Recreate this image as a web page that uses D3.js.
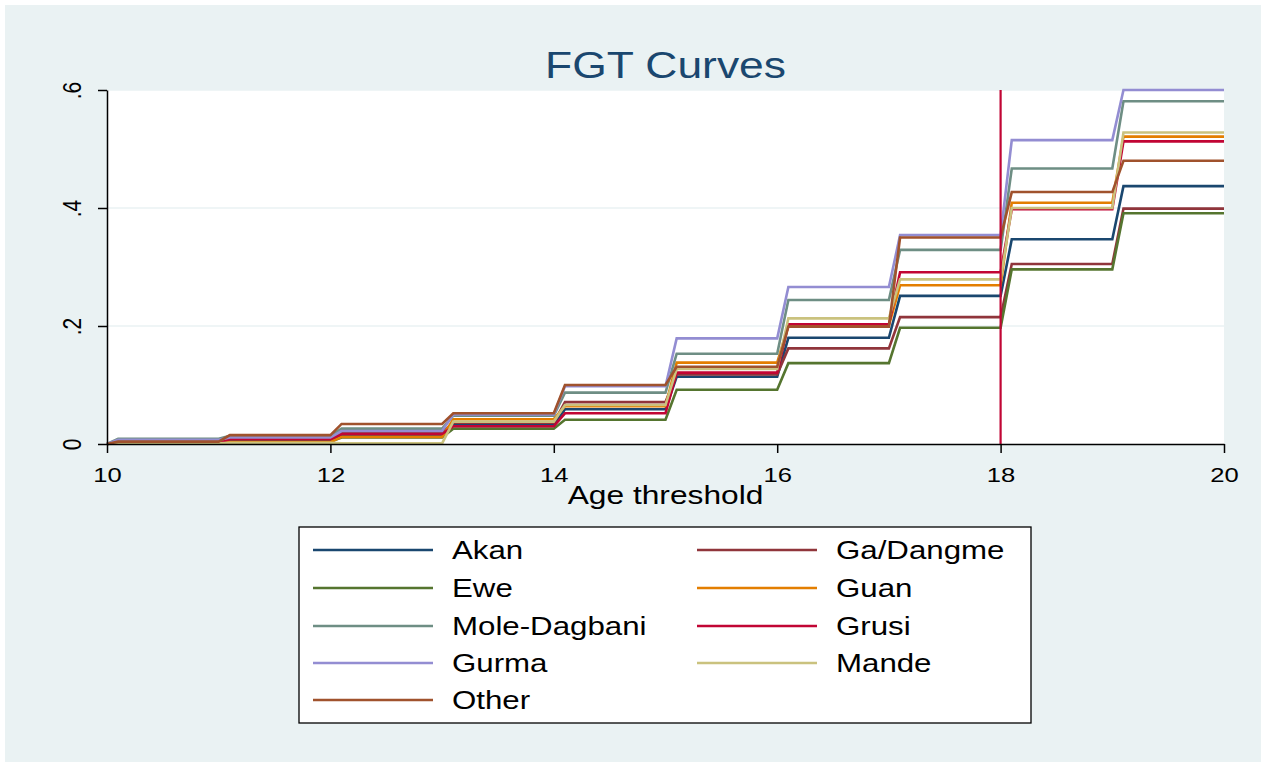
<!DOCTYPE html>
<html>
<head>
<meta charset="utf-8">
<script src="https://cdn.jsdelivr.net/npm/d3@7"></script>
<style>
  html, body { margin: 0; padding: 0; background: #ffffff; }
  svg { display: block; font-family: "Liberation Sans", Arial, sans-serif; }
</style>
</head>
<body>
<svg id="chart" width="1266" height="767"></svg>
<script>
// ---- Data ----
const ages = [10, 10.1, 11, 11.1, 12, 12.1, 13, 13.1, 14, 14.1, 15, 15.1, 16, 16.1, 17, 17.1, 18, 18.1, 19, 19.1, 20];
const groups = ["Akan", "Ga/Dangme", "Ewe", "Guan", "Mole-Dagbani", "Grusi", "Gurma", "Mande", "Other"];
// FGT level after each threshold step (age 10 value is 0)
const akan        = [0, 0.003, 0.003, 0.005, 0.005, 0.014, 0.014, 0.032, 0.032, 0.059, 0.059, 0.114, 0.114, 0.180, 0.180, 0.251, 0.251, 0.347, 0.347, 0.437, 0.437];
const gaDangme    = [0, 0.004, 0.004, 0.007, 0.007, 0.019, 0.019, 0.036, 0.036, 0.071, 0.071, 0.118, 0.118, 0.162, 0.162, 0.215, 0.215, 0.305, 0.305, 0.399, 0.399];
const ewe         = [0, 0.002, 0.002, 0.004, 0.004, 0.011, 0.011, 0.026, 0.026, 0.041, 0.041, 0.092, 0.092, 0.137, 0.137, 0.197, 0.197, 0.296, 0.296, 0.391, 0.391];
const guan        = [0, 0.002, 0.002, 0.003, 0.003, 0.012, 0.012, 0.042, 0.042, 0.064, 0.064, 0.138, 0.138, 0.201, 0.201, 0.269, 0.269, 0.409, 0.409, 0.521, 0.521];
const moleDagbani = [0, 0.009, 0.009, 0.014, 0.014, 0.026, 0.026, 0.048, 0.048, 0.087, 0.087, 0.153, 0.153, 0.244, 0.244, 0.329, 0.329, 0.467, 0.467, 0.581, 0.581];
const grusi       = [0, 0.003, 0.003, 0.008, 0.008, 0.017, 0.017, 0.030, 0.030, 0.052, 0.052, 0.121, 0.121, 0.203, 0.203, 0.291, 0.291, 0.398, 0.398, 0.513, 0.513];
const gurma       = [0, 0.007, 0.007, 0.011, 0.011, 0.022, 0.022, 0.050, 0.050, 0.098, 0.098, 0.179, 0.179, 0.266, 0.266, 0.354, 0.354, 0.515, 0.515, 0.600, 0.600];
const mande       = [0, 0.001, 0.001, 0.002, 0.002, 0.001, 0.001, 0.038, 0.038, 0.066, 0.066, 0.127, 0.127, 0.213, 0.213, 0.279, 0.279, 0.400, 0.400, 0.528, 0.528];
const other       = [0, 0.004, 0.004, 0.015, 0.015, 0.034, 0.034, 0.052, 0.052, 0.100, 0.100, 0.131, 0.131, 0.199, 0.199, 0.350, 0.350, 0.427, 0.427, 0.480, 0.480];
const seriesValues = [akan, gaDangme, ewe, guan, moleDagbani, grusi, gurma, mande, other];
const colors = ["#1A476F", "#90353B", "#55752F", "#E37E00", "#6E8E84", "#C10534", "#938DD2", "#CAC27E", "#A0522D"];
const xTicks = [10, 12, 14, 16, 18, 20];
const yTicks = [0, 0.2, 0.4, 0.6];
const yTickLabels = ["0", ".2", ".4", ".6"];
const refLineAge = 18;
// legend order: two columns, row-major
const legendOrder = ["Akan", "Ga/Dangme", "Ewe", "Guan", "Mole-Dagbani", "Grusi", "Gurma", "Mande", "Other"];

// ---- Layout ----
const W = 1266, H = 767;
const plot = { left: 107, right: 1224, top: 90, bottom: 444 };
const SX = 1.22; // horizontal stretch of the reference's text
const svg = d3.select("#chart");

svg.append("rect").attr("x", 0).attr("y", 0).attr("width", W).attr("height", H).attr("fill", "#ffffff");
svg.append("rect").attr("x", 5).attr("y", 5).attr("width", W - 10).attr("height", H - 10).attr("fill", "#EAF2F3");
svg.append("rect").attr("x", plot.left).attr("y", plot.top)
  .attr("width", plot.right - plot.left).attr("height", plot.bottom - plot.top).attr("fill", "#ffffff");

const x = d3.scaleLinear().domain([10, 20]).range([plot.left, plot.right]);
const y = d3.scaleLinear().domain([0, 0.6]).range([plot.bottom, plot.top]);

// gridlines
svg.append("g").selectAll("line").data(yTicks.filter(d => d > 0)).join("line")
  .attr("x1", plot.left).attr("x2", plot.right)
  .attr("y1", d => y(d)).attr("y2", d => y(d))
  .attr("stroke", "#EAF2F3").attr("stroke-width", 1.6);

// series lines
const line = d3.line().x((d, i) => x(ages[i])).y(d => y(d));
svg.append("g").selectAll("path").data(seriesValues).join("path")
  .attr("d", d => line(d))
  .attr("fill", "none")
  .attr("stroke", (d, i) => colors[i])
  .attr("stroke-width", 2.6)
  .attr("stroke-linejoin", "miter");

// reference line at age 18
svg.append("line")
  .attr("x1", x(refLineAge)).attr("x2", x(refLineAge))
  .attr("y1", plot.top).attr("y2", plot.bottom)
  .attr("stroke", "#C10534").attr("stroke-width", 2.2);

// axes
const xAxis = d3.axisBottom(x).tickValues(xTicks).tickFormat(d3.format("d")).tickSize(9).tickSizeOuter(0);
const gx = svg.append("g").attr("transform", `translate(0,${plot.bottom})`).call(xAxis);
gx.select(".domain").attr("stroke", "#000").attr("stroke-width", 1.5);
gx.selectAll(".tick line").attr("stroke", "#000").attr("stroke-width", 1.5);
gx.selectAll(".tick text").attr("font-size", 21).attr("fill", "#000")
  .attr("font-family", "Liberation Sans, Arial, sans-serif")
  .attr("y", null).attr("dy", null)
  .attr("transform", `translate(0,38) scale(${SX},1)`);

const yAxis = d3.axisLeft(y).tickValues(yTicks).tickFormat((d, i) => yTickLabels[i]).tickSize(9).tickSizeOuter(0);
const gy = svg.append("g").attr("transform", `translate(${plot.left},0)`).call(yAxis);
gy.select(".domain").attr("stroke", "#000").attr("stroke-width", 1.5);
gy.selectAll(".tick line").attr("stroke", "#000").attr("stroke-width", 1.5);
gy.selectAll(".tick text").attr("font-size", 21).attr("fill", "#000")
  .attr("font-family", "Liberation Sans, Arial, sans-serif")
  .attr("x", null).attr("dy", null)
  .attr("text-anchor", "middle")
  .attr("transform", `translate(-35,0) rotate(-90) scale(1,${SX})`)
  .attr("dominant-baseline", "central");

// title
svg.append("text")
  .attr("transform", `translate(${(plot.left + plot.right) / 2},78) scale(1.2,1)`)
  .attr("text-anchor", "middle").attr("font-size", 37).attr("fill", "#1A476F")
  .text("FGT Curves");

// x axis title
svg.append("text")
  .attr("transform", `translate(${(plot.left + plot.right) / 2},504) scale(${SX},1)`)
  .attr("text-anchor", "middle").attr("font-size", 26).attr("fill", "#000")
  .text("Age threshold");

// legend
const lg = svg.append("g");
lg.append("rect").attr("x", 299).attr("y", 527).attr("width", 732).attr("height", 196)
  .attr("fill", "#ffffff").attr("stroke", "#000").attr("stroke-width", 1.3);
const colX = [313, 697];
const rowY = [550, 588, 626, 663, 700];
legendOrder.forEach((name, k) => {
  const i = groups.indexOf(name);
  const c = k % 2, r = Math.floor(k / 2);
  lg.append("line").attr("x1", colX[c]).attr("x2", colX[c] + 120)
    .attr("y1", rowY[r]).attr("y2", rowY[r])
    .attr("stroke", colors[i]).attr("stroke-width", 2.4);
  lg.append("text")
    .attr("transform", `translate(${colX[c] + 139},${rowY[r] + 9}) scale(1.25,1)`)
    .attr("font-size", 25).attr("fill", "#000")
    .text(name);
});
</script>
</body>
</html>
